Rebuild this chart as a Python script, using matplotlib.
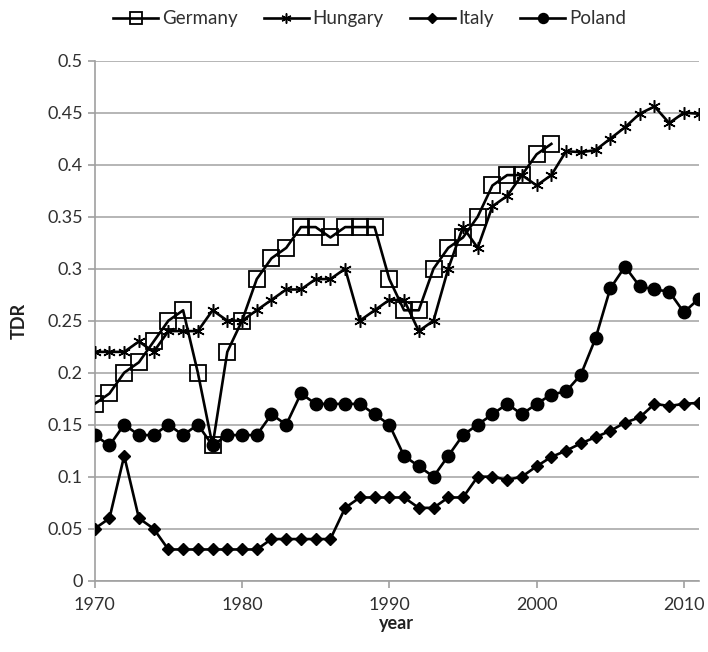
import numpy as np
import matplotlib
matplotlib.use('Agg')
import matplotlib.pyplot as plt

plt.rcParams['font.family'] = ['Lato', 'DejaVu Sans']

# data
years = np.arange(1970, 2012)
germany_years = np.arange(1970, 2002)
germany = [0.17, 0.18, 0.20, 0.21, 0.23, 0.25, 0.26, 0.20, 0.13, 0.22,
           0.25, 0.29, 0.31, 0.32, 0.34, 0.34, 0.33, 0.34, 0.34, 0.34,
           0.29, 0.26, 0.26, 0.30, 0.32, 0.33, 0.35, 0.38, 0.39, 0.39,
           0.41, 0.42]
hungary = [0.22, 0.22, 0.22, 0.23, 0.22, 0.24, 0.24, 0.24, 0.26, 0.25,
           0.25, 0.26, 0.27, 0.28, 0.28, 0.29, 0.29, 0.30, 0.25, 0.26,
           0.27, 0.27, 0.24, 0.25, 0.30, 0.34, 0.32, 0.36, 0.37, 0.39,
           0.38, 0.39, 0.413, 0.412, 0.414, 0.425, 0.436, 0.449, 0.456, 0.44,
           0.45, 0.449]
italy = [0.05, 0.06, 0.12, 0.06, 0.05, 0.03, 0.03, 0.03, 0.03, 0.03,
         0.03, 0.03, 0.04, 0.04, 0.04, 0.04, 0.04, 0.07, 0.08, 0.08,
         0.08, 0.08, 0.07, 0.07, 0.08, 0.08, 0.10, 0.10, 0.097, 0.10,
         0.11, 0.119, 0.125, 0.132, 0.138, 0.144, 0.152, 0.157, 0.17, 0.168,
         0.17, 0.171]
poland = [0.14, 0.13, 0.15, 0.14, 0.14, 0.15, 0.14, 0.15, 0.13, 0.14,
          0.14, 0.14, 0.16, 0.15, 0.18, 0.17, 0.17, 0.17, 0.17, 0.16,
          0.15, 0.12, 0.11, 0.10, 0.12, 0.14, 0.15, 0.16, 0.17, 0.16,
          0.17, 0.179, 0.182, 0.198, 0.233, 0.281, 0.302, 0.283, 0.28, 0.278,
          0.258, 0.271]

fig = plt.figure(figsize=(7.08, 6.52), dpi=100)
ax = fig.add_axes([0.1338, 0.1094, 0.853, 0.7975])

lw = 1.9
ax.plot(germany_years, germany, color='black', lw=lw, marker='s', ms=11,
        mfc='none', mec='black', mew=1.3, label='Germany', zorder=5)
ax.plot(years, hungary, color='black', lw=lw, marker=(6, 2, 0), ms=9,
        mec='black', mew=1.1, label='Hungary', zorder=4)
ax.plot(years, italy, color='black', lw=lw, marker='D', ms=6.5,
        label='Italy', zorder=3)
ax.plot(years, poland, color='black', lw=lw, marker='o', ms=9,
        label='Poland', zorder=3)

ax.set_xlim(1970, 2011)
ax.set_ylim(0, 0.5)
ax.set_xticks([1970, 1980, 1990, 2000, 2010])
ax.set_yticks(np.arange(0, 0.51, 0.05))
ax.set_yticklabels(['0', '0.05', '0.1', '0.15', '0.2', '0.25', '0.3',
                    '0.35', '0.4', '0.45', '0.5'])
ax.yaxis.grid(True, color='#b0b0b0', lw=1.3)
ax.set_axisbelow(True)
for s in ['top', 'right']:
    ax.spines[s].set_visible(False)
for s in ['left', 'bottom']:
    ax.spines[s].set_color('#a0a0a0')
    ax.spines[s].set_linewidth(1.2)
ax.tick_params(colors='#a0a0a0', labelcolor='#303030', labelsize=13,
               length=5, width=1.2)
ax.tick_params(axis='x', pad=7)
ax.set_xlabel('year', fontsize=13, fontweight='bold', color='#202020', labelpad=1)
ax.set_ylabel('TDR', fontsize=13, fontweight='bold', color='#202020', labelpad=14)

fig.legend(loc='upper center', bbox_to_anchor=(0.522, 1.01), ncol=4,
           frameon=False, fontsize=13.5, handlelength=2.4, handletextpad=0.2,
           columnspacing=1.4, labelcolor='#303030', markerscale=0.8)

fig.savefig('out.png', dpi=100)
